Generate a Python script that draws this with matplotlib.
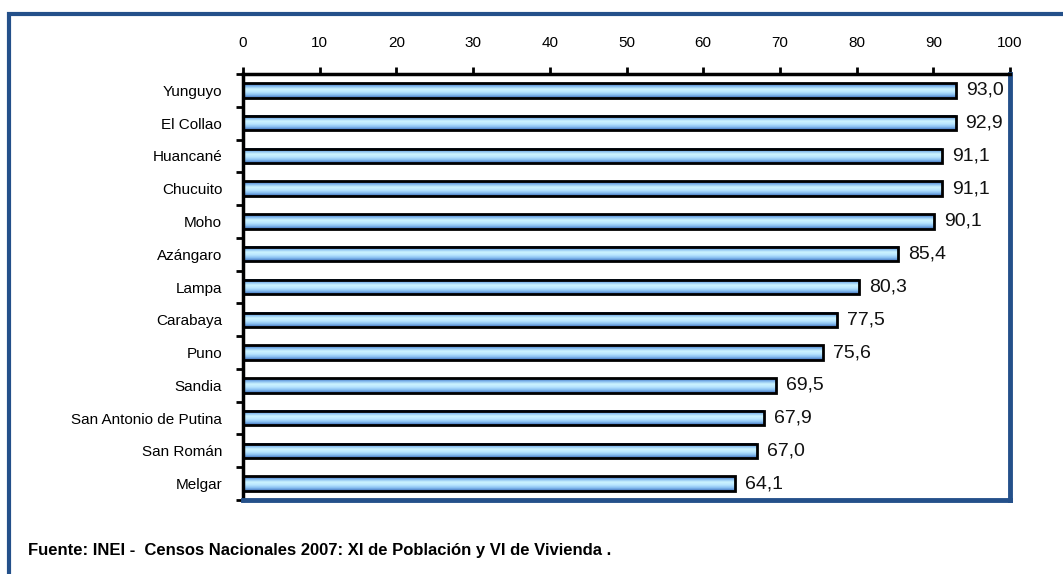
import matplotlib
matplotlib.use('Agg')
from matplotlib import pyplot as plt
from matplotlib.colors import LinearSegmentedColormap
from matplotlib.patches import Rectangle
import numpy as np

provincias = ['Yunguyo', 'El Collao', 'Huancané', 'Chucuito', 'Moho', 'Azángaro',
              'Lampa', 'Carabaya', 'Puno', 'Sandia', 'San Antonio de Putina',
              'San Román', 'Melgar']
valores = [93.0, 92.9, 91.1, 91.1, 90.1, 85.4, 80.3, 77.5, 75.6, 69.5, 67.9, 67.0, 64.1]
x_ticks = [0, 10, 20, 30, 40, 50, 60, 70, 80, 90, 100]
fuente = 'Fuente: INEI -  Censos Nacionales 2007: XI de Población y VI de Vivienda .'

plt.rcParams['font.family'] = ['Liberation Sans Narrow', 'Liberation Sans', 'DejaVu Sans']

BLUE = '#24508a'
W, H = 1063, 574

fig = plt.figure(figsize=(W / 100, H / 100), dpi=100)

# outer frame (only top and left are visible)
fig.add_artist(Rectangle((9 / W, -0.05), 1.2, 1 - 9 / H + 0.05 - 5 / H,
                         transform=fig.transFigure, fill=False,
                         edgecolor=BLUE, linewidth=3))

ax = fig.add_axes([243 / W, 1 - 500 / H, (1010 - 243) / W, (500 - 74) / H])

grad = LinearSegmentedColormap.from_list(
    'barra', ['#2c5aa8', '#7fb6ec', '#cdf4ff', '#b8e6ff', '#86bdf0', '#3b6cb8'])
g = np.linspace(0, 1, 64).reshape(-1, 1)

h = 0.44
y = np.arange(len(provincias))
for yi, v in zip(y, valores):
    ax.imshow(g, cmap=grad, aspect='auto', extent=(0, v, yi + h / 2, yi - h / 2),
              zorder=2, interpolation='bilinear')
    ax.add_patch(Rectangle((0, yi - h / 2), v, h, fill=False, edgecolor='black',
                           linewidth=2, zorder=3))
    ax.text(v + 1.3, yi, f'{v:.1f}'.replace('.', ','), va='center', ha='left',
            fontsize=14, color='#111111')

ax.set_xlim(0, 100)
ax.set_ylim(len(provincias) - 0.5, -0.5)

ax.xaxis.tick_top()
ax.set_xticks(x_ticks)
ax.set_xticklabels([str(t) for t in x_ticks], fontsize=11)
ax.tick_params(axis='x', direction='out', length=5, width=2, pad=12)

ax.set_yticks(y)
ax.set_yticklabels(provincias, fontsize=11)
ax.set_yticks(np.arange(len(provincias) + 1) - 0.5, minor=True)
ax.tick_params(axis='y', which='major', length=0, pad=15)
ax.tick_params(axis='y', which='minor', direction='out', length=5, width=2)

ax.spines['top'].set_linewidth(2.5)
ax.spines['left'].set_linewidth(2.5)
ax.spines['top'].set_color('black')
ax.spines['left'].set_color('black')
ax.spines['right'].set_color(BLUE)
ax.spines['bottom'].set_color(BLUE)
ax.spines['right'].set_linewidth(3.5)
ax.spines['bottom'].set_linewidth(3.5)

fig.text(28 / W, 1 - 551 / H, fuente, fontsize=12, fontweight='bold',
         va='center', ha='left')

fig.savefig('out.png', dpi=100)
